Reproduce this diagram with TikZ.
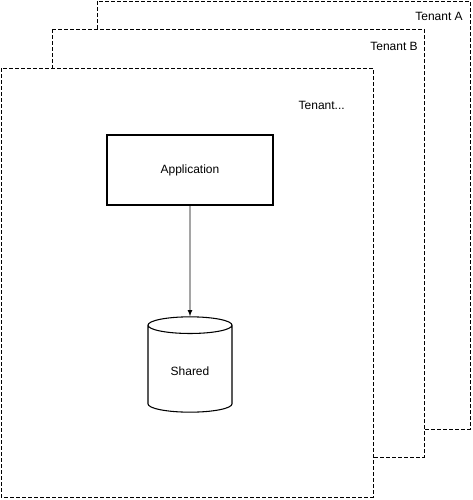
\documentclass[tikz,border=0pt]{standalone}
\usepackage{fontspec}
\setmainfont{Liberation Sans}
\usetikzlibrary{shapes.geometric, positioning}
\definecolor{tenantgray}{RGB}{170,170,170}

\begin{document}
\begin{tikzpicture}[x=0.75pt, y=-0.75pt, font=\fontsize{9}{11}\selectfont,
  tenantbox/.style={draw, fill=white, dashed, dash pattern=on 3pt off 1.5pt, line width=0.6pt},
  tenantlabel/.style={anchor=east, inner sep=0pt},
  appbox/.style={draw, fill=white, line width=0.8pt, minimum width=124.5pt, minimum height=52.5pt},
  store/.style={draw, fill=white, line width=0.8pt, cylinder, shape border rotate=90, aspect=0.35, minimum width=63pt, minimum height=71.5pt}]
\useasboundingbox (0,0) rectangle (472,500);

\draw[tenantbox] (97,1) rectangle (470,429);
\node[tenantlabel] (tenantA) at (463,16) {Tenant A};

\draw[tenantbox] (52,29) rectangle (424,457);
\node[tenantlabel] (tenantB) at (418,46) {Tenant B};

\draw[tenantbox] (1,68) rectangle (373,497);
\node[tenantlabel] (tenantC) at (345,105) {Tenant...};

\node[appbox] (app) at (190,170) {Application};
\node[store, anchor=shape center] (shared) at (190,364.5) {Shared};

\draw[-latex, line width=0.6pt] (app) -- (shared);
\end{tikzpicture}
\end{document}
